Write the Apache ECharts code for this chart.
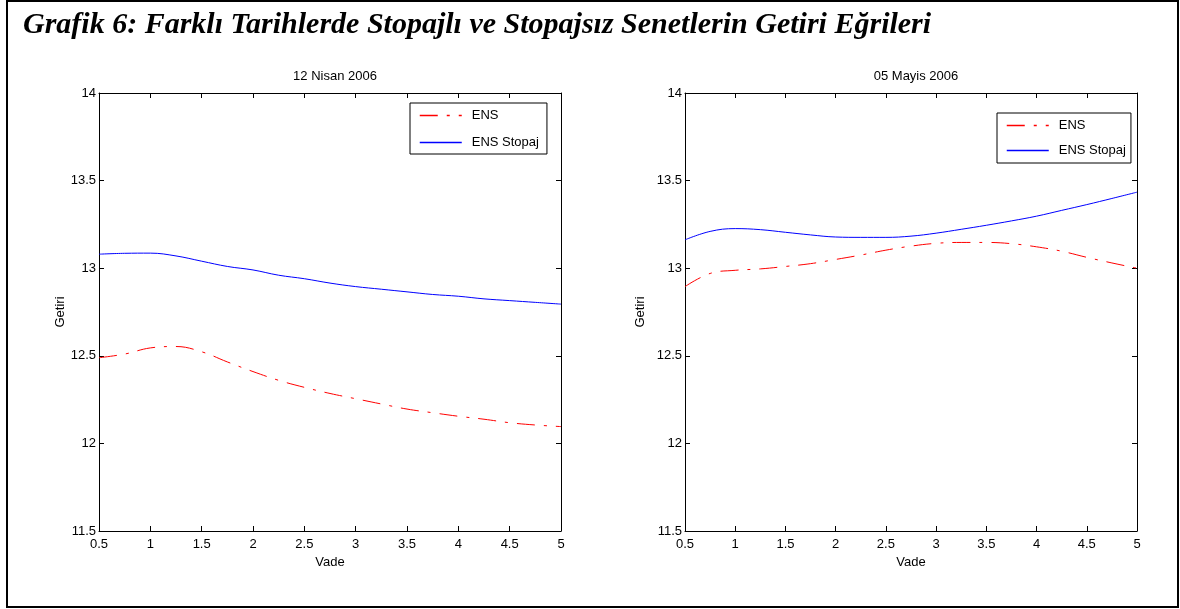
<!DOCTYPE html>
<html>
<head>
<meta charset="utf-8">
<script src="https://cdn.jsdelivr.net/npm/echarts@6/dist/echarts.min.js"></script>
<style>
    html, body { margin: 0; padding: 0; background: #fff; }
    #chart { width: 1180px; height: 609px; }
</style>
</head>
<body>
<div id="chart"></div>
<script>
let vade = [0.5, 0.75, 1, 1.25, 1.5, 1.75, 2, 2.25, 2.5, 2.75, 3, 3.25, 3.5, 3.75, 4, 4.25, 4.5, 4.75, 5];

// 12 Nisan 2006
let nisanEns = [12.489, 12.51, 12.545, 12.553, 12.523, 12.465, 12.41, 12.36, 12.32, 12.285, 12.255, 12.225, 12.196, 12.175, 12.155, 12.138, 12.118, 12.105, 12.096];
let nisanStopaj = [13.08, 13.085, 13.086, 13.07, 13.04, 13.01, 12.99, 12.96, 12.94, 12.915, 12.895, 12.88, 12.865, 12.85, 12.84, 12.825, 12.815, 12.805, 12.795];

// 05 Mayis 2006
let mayisEns = [12.895, 12.97, 12.988, 12.996, 13.01, 13.026, 13.05, 13.075, 13.103, 13.126, 13.142, 13.147, 13.147, 13.14, 13.122, 13.097, 13.062, 13.03, 13.0];
let mayisStopaj = [13.162, 13.21, 13.226, 13.22, 13.205, 13.19, 13.178, 13.176, 13.176, 13.183, 13.2, 13.222, 13.245, 13.27, 13.297, 13.33, 13.363, 13.398, 13.434];

let panelTitles = ['12 Nisan 2006', '05 Mayis 2006'];
let seriesNames = ['ENS', 'ENS Stopaj'];

let font = 'Liberation Sans, Arial, sans-serif';

function pairs(values) {
    return values.map(function (v, i) {
        return [vade[i], v];
    });
}

let grids = [
    {left: 99, top: 93, width: 462, height: 438},
    {left: 685, top: 93, width: 452, height: 438}
];

let xAxes = [], yAxes = [];
grids.forEach(function (g, i) {
    let line = {show: true, lineStyle: {color: '#000', width: 1}};
    xAxes.push({
        type: 'value', gridIndex: i, min: 0.5, max: 5, interval: 0.5, position: 'bottom',
        name: 'Vade', nameLocation: 'middle', nameGap: 25,
        nameTextStyle: {fontFamily: font, fontSize: 13, color: '#000'},
        axisLine: line,
        axisTick: {show: true, inside: true, length: 5, lineStyle: {color: '#000'}},
        axisLabel: {fontFamily: font, fontSize: 13, color: '#000', margin: 7},
        splitLine: {show: false}
    });
    xAxes.push({
        type: 'value', gridIndex: i, min: 0.5, max: 5, interval: 0.5, position: 'top',
        axisLine: line,
        axisTick: {show: true, inside: true, length: 5, lineStyle: {color: '#000'}},
        axisLabel: {show: false},
        splitLine: {show: false}
    });
    yAxes.push({
        type: 'value', gridIndex: i, min: 11.5, max: 14, interval: 0.5, position: 'left',
        name: 'Getiri', nameLocation: 'middle', nameGap: i === 0 ? 30 : 38,
        nameTextStyle: {fontFamily: font, fontSize: 13, color: '#000'},
        axisLine: line,
        axisTick: {show: true, inside: true, length: 5, lineStyle: {color: '#000'}},
        axisLabel: {fontFamily: font, fontSize: 13, color: '#000', margin: 3},
        splitLine: {show: false}
    });
    yAxes.push({
        type: 'value', gridIndex: i, min: 11.5, max: 14, interval: 0.5, position: 'right',
        axisLine: line,
        axisTick: {show: true, inside: true, length: 5, lineStyle: {color: '#000'}},
        axisLabel: {show: false},
        splitLine: {show: false}
    });
});

function ensSeries(values, idx) {
    return {
        name: seriesNames[0], type: 'line', xAxisIndex: idx * 2, yAxisIndex: idx * 2,
        data: pairs(values), smooth: 0.4, symbol: 'none', showSymbol: false,
        lineStyle: {color: '#ff0000', width: 1, type: [18, 9, 3, 9]},
        itemStyle: {color: '#ff0000'}
    };
}

function stopajSeries(values, idx) {
    return {
        name: seriesNames[1], type: 'line', xAxisIndex: idx * 2, yAxisIndex: idx * 2,
        data: pairs(values), smooth: 0.4, symbol: 'none', showSymbol: false,
        lineStyle: {color: '#0000ff', width: 1},
        itemStyle: {color: '#0000ff'}
    };
}

let legendBase = {
    data: seriesNames,
    orient: 'vertical', itemWidth: 42, itemHeight: 14,
    borderColor: '#000', borderWidth: 1, backgroundColor: '#fff', borderRadius: 0,
    itemStyle: {opacity: 0},
    lineStyle: {width: 1.5},
    textStyle: {fontFamily: font, fontSize: 13, color: '#000', padding: [0, 0, 0, 5]},
    selectedMode: false
};

let option = {
    backgroundColor: '#fff',
    animation: false,
    title: [
        {
            text: 'Grafik 6: Farklı Tarihlerde Stopajlı ve Stopajsız Senetlerin Getiri Eğrileri',
            left: 18, top: 5,
            textStyle: {fontFamily: 'Liberation Serif, Times New Roman, serif', fontStyle: 'italic', fontWeight: 'bold', fontSize: 30, color: '#000'}
        },
        {
            text: panelTitles[0], left: 330, top: 65, textAlign: 'center',
            textStyle: {fontFamily: font, fontSize: 13, fontWeight: 'normal', color: '#000'}
        },
        {
            text: panelTitles[1], left: 911, top: 65, textAlign: 'center',
            textStyle: {fontFamily: font, fontSize: 13, fontWeight: 'normal', color: '#000'}
        }
    ],
    legend: [
        Object.assign({}, legendBase, {left: 410, top: 103, padding: [6, 8, 5, 9], itemGap: 14}),
        Object.assign({}, legendBase, {left: 997, top: 113, padding: [6, 5, 6, 9], itemGap: 12})
    ],
    grid: grids,
    xAxis: xAxes,
    yAxis: yAxes,
    series: [
        ensSeries(nisanEns, 0),
        stopajSeries(nisanStopaj, 0),
        ensSeries(mayisEns, 1),
        stopajSeries(mayisStopaj, 1)
    ],
    graphic: [
        {type: 'line', shape: {x1: 7, y1: 1, x2: 7, y2: 608}, style: {stroke: '#000', lineWidth: 2}},
        {type: 'line', shape: {x1: 6, y1: 1, x2: 1179, y2: 1}, style: {stroke: '#000', lineWidth: 2}},
        {type: 'line', shape: {x1: 6, y1: 607, x2: 1179, y2: 607}, style: {stroke: '#000', lineWidth: 2}},
        {type: 'line', shape: {x1: 1178, y1: 1, x2: 1178, y2: 608}, style: {stroke: '#000', lineWidth: 2}}
    ]
};

let chart = echarts.init(document.getElementById('chart'));
chart.setOption(option);
</script>
</body>
</html>
